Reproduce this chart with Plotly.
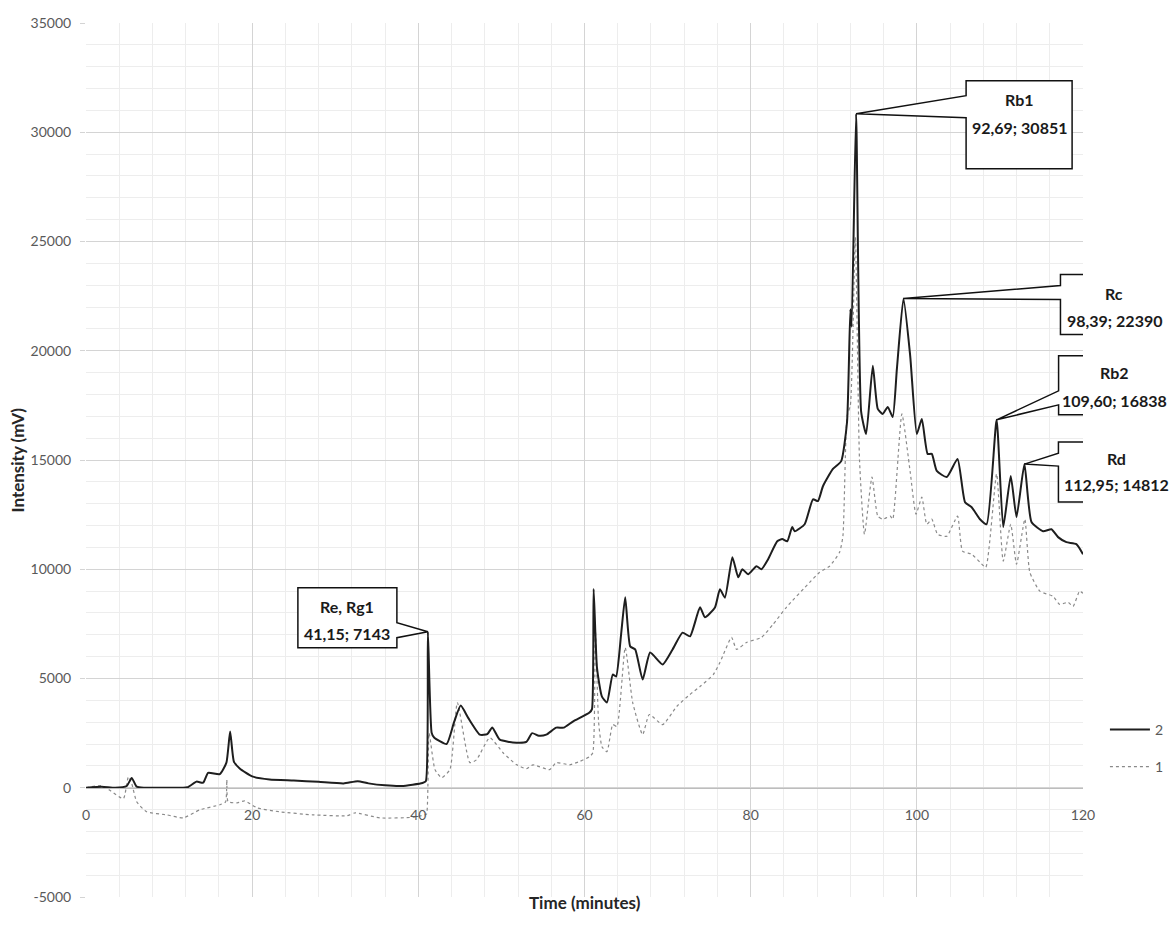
import plotly.graph_objects as go

# Chromatogram series: retention time (min) and detector intensity (mV)
time_2 = [0, 1.9, 3.5, 4.9, 5.5, 6.1, 7, 9, 12.2, 13.3, 14.1, 14.7, 16.1, 16.9, 17.35, 17.8,
          18.5, 20, 22.1, 25, 28, 31, 32.7, 34, 36, 38, 40.5, 40.9, 41.15, 41.6, 41.9, 43.4,
          44.3, 45.1, 46, 47.4, 48.3, 48.9, 49.8, 51.8, 53, 53.7, 54.5, 55.4, 56.6, 57.5,
          58.6, 60.6, 60.9, 61.1, 61.5, 62.1, 62.7, 63.4, 63.8, 64.4, 64.9, 65.5, 66.1, 67.0,
          67.9, 69.4, 70.6, 71.8, 72.7, 73.9, 74.5, 75.7, 76.3, 76.9, 77.8, 78.5, 79.0, 79.7,
          80.7, 81.3, 82.1, 83.2, 83.8, 84.4, 85.0, 85.3, 86.5, 87.5, 88.1, 88.7, 89.9, 90.9,
          91.6, 92.0, 92.15, 92.69, 93.3, 93.9, 94.7, 95.3, 95.9, 96.5, 97.1, 97.6, 98.39,
          99.2, 100.0, 100.6, 101.3, 101.8, 102.4, 103.6, 104.9, 105.8, 106.6, 107.6, 108.4,
          109.6, 110.4, 111.3, 112.0, 112.95, 113.8, 115.2, 116.2, 117.0, 118.0, 119.2, 120]
intensity_2 = [0, 50, 0, 80, 450, 50, 0, 0, 20, 280, 230, 680, 620, 1150, 2570, 1200,
               880, 520, 380, 330, 270, 200, 300, 200, 110, 80, 220, 300, 7143, 2520, 2300, 2000,
               3000, 3760, 3200, 2430, 2450, 2760, 2200, 2060, 2100, 2500, 2380, 2430, 2750, 2750,
               3030, 3440, 3600, 9100, 5500, 4170, 3900, 5180, 5090, 7000, 8720, 6470, 6330, 4950,
               6190, 5640, 6330, 7100, 6930, 8260, 7800, 8250, 9080, 8700, 10550, 9630, 10000, 9770,
               10140, 10000, 10460, 11280, 11380, 11280, 11930, 11740, 12060, 13200, 13120, 13800, 14590, 14950,
               16740, 21900, 21100, 30851, 17200, 16190, 19310, 17340, 17110, 17430, 16970, 19170, 22390,
               19770, 16190, 16880, 15280, 15280, 14500, 14220, 15050, 13070, 12840, 12290, 12060,
               16838, 11930, 14270, 12390, 14812, 12160, 11740, 11830, 11470, 11240, 11150, 10690]

time_1 = [0, 1.9, 3, 4.5, 5.1, 5.5, 6.1, 7.3, 9.7, 11.7, 13.7, 16.1, 16.8, 16.95, 17.1, 18.2,
          19.1, 20.6, 23.3, 27.3, 31.4, 32.4, 35.4, 39.4, 40.8, 41.0, 41.3, 42.0, 42.8, 43.8,
          44.7, 46.2, 47.0, 48.6, 50.2, 51.8, 53.0, 53.8, 55.8, 56.6, 58.2, 59.4, 60.6, 61.0,
          61.3, 61.7, 62.1, 62.7, 63.4, 63.9, 64.9, 65.8, 67.0, 67.8, 69.4, 71.1, 72.7, 73.9,
          75.5, 76.3, 77.7, 78.3, 79.5, 81.3, 82.7, 84.3, 87.1, 88.3, 89.5, 90.7, 91.1, 91.6,
          92.0, 92.6, 93.1, 93.7, 94.6, 95.3, 95.9, 96.8, 97.1, 98.2, 99.2, 99.9, 100.6, 101.2,
          101.8, 102.5, 103.6, 104.9, 105.5, 106.6, 107.6, 108.3, 109.6, 110.4, 111.3, 112.0,
          113.0, 113.6, 114.8, 116.4, 117.2, 118.2, 118.8, 119.6, 120]
intensity_1 = [0, 100, -150, -500, 500, 200, -640, -1100, -1240, -1380, -1010, -780, -650, 370, -640, -690,
               -600, -920, -1100, -1240, -1280, -1150, -1380, -1350, -1240, -1200, 2500, 830, 460, 830,
               3900, 1150, 1280, 2290, 1600, 1060, 870, 1050, 830, 1150, 1050, 1200, 1420, 1600,
               7300, 3000, 1880, 1650, 2890, 2800, 6420, 3900, 2430, 3350, 2890, 3720, 4270, 4630,
               5180, 5730, 6880, 6330, 6650, 6880, 7480, 8260, 9400, 9860, 10140, 10780, 11510, 17000,
               17500, 25200, 15000, 11600, 14220, 12430, 12290, 12430, 12290, 17110, 14450, 12520, 13300, 12060,
               12290, 11600, 11510, 12430, 10830, 10690, 10320, 10090, 14360, 10370, 12060, 10230,
               12290, 9860, 9000, 8760, 8390, 8490, 8300, 9000, 8900]

# Labelled peaks of series 2
peak_names = ["Re, Rg1", "Rb1", "Rc", "Rb2", "Rd"]
peak_times = [41.15, 92.69, 98.39, 109.60, 112.95]
peak_values = [7143, 30851, 22390, 16838, 14812]

x_ticks = [0, 20, 40, 60, 80, 100, 120]
y_ticks = [-5000, 0, 5000, 10000, 15000, 20000, 25000, 30000, 35000]

FONT = "Lato"
TICK_GREY = "#595959"

fig = go.Figure()
fig.add_trace(go.Scatter(
    x=time_1, y=intensity_1, name="1", mode="lines", legendgroup="s1", legendrank=2,
    line=dict(color="#8a8a8a", width=1.2, dash="dot", shape="spline", smoothing=0.5),
))
fig.add_trace(go.Scatter(
    x=time_2, y=intensity_2, name="2", mode="lines", legendgroup="s2", legendrank=1,
    line=dict(color="#1e1e1e", width=2, shape="spline", smoothing=0.5),
))

# Callout geometry in pixels relative to each peak (screen y grows downward):
# box left, right, top, bottom, wedge y1, wedge y2, text centre x, line-1 y, line-2 y
callout_layout = [
    (-130, -31, -44, 16, -9, 6, -81, -25, 2),
    (110, 216, -33, 55, -18, 4, 163, -14, 14),
    (157, 264, -24, 36, -13, 1, 211, -5, 22),
    (62, 176, -64, -5, -29, -15, 118, -47, -19),
    (34, 148, -22, 38, -11, 2, 92, -6, 20),
]

for name, t, v, geo in zip(peak_names, peak_times, peak_values, callout_layout):
    L, R, T, B, w1, w2, cx, ly1, ly2 = geo
    if L < 0:
        pts = [(L, T), (R, T), (R, w1), (0, 0), (R, w2), (R, B), (L, B)]
    else:
        pts = [(L, T), (R, T), (R, B), (L, B), (L, w2), (0, 0), (L, w1)]
    path = "M " + " L ".join(f"{px},{-py}" for px, py in pts) + " Z"
    fig.add_shape(type="path", path=path, xref="x", yref="y",
                  xsizemode="pixel", ysizemode="pixel", xanchor=t, yanchor=v,
                  fillcolor="white", line=dict(color="#111111", width=1.5), layer="above")
    label_value = f"{t:.2f}".replace(".", ",") + f"; {v}"
    for txt, ly in ((name, ly1), (label_value, ly2)):
        fig.add_annotation(x=t, y=v, xref="x", yref="y", text=f"<b>{txt}</b>",
                           showarrow=False, xshift=cx, yshift=-ly,
                           font=dict(family=FONT, size=16, color="#1a1a1a"))

# Axis titles
fig.add_annotation(x=0.5, y=0, xref="paper", yref="paper", yshift=-18, text="<b>Time (minutes)</b>",
                   showarrow=False, font=dict(family=FONT, size=17, color="#262626"))
fig.add_annotation(x=0, y=0.5, xref="paper", yref="paper", xshift=-82, text="<b>Intensity (mV)</b>",
                   textangle=-90, showarrow=False, font=dict(family=FONT, size=17, color="#262626"))

fig.update_layout(
    width=1171, height=927,
    margin=dict(l=86, r=88, t=23, b=30, autoexpand=False),
    paper_bgcolor="white", plot_bgcolor="white",
    font=dict(family=FONT, color=TICK_GREY),
    showlegend=True,
    legend=dict(x=1.022, y=0.17, xanchor="left", yanchor="middle",
                traceorder="grouped", itemwidth=40, tracegroupgap=16,
                font=dict(family=FONT, size=14, color=TICK_GREY),
                bgcolor="rgba(0,0,0,0)"),
    xaxis=dict(
        range=[0, 120], tickvals=x_ticks, ticktext=[str(v) for v in x_ticks],
        anchor="free", position=0.125,
        showgrid=True, gridcolor="#d4d4d4", gridwidth=1,
        minor=dict(dtick=4, showgrid=True, gridcolor="#ededed", gridwidth=1),
        showline=True, linecolor="#bdbdbd", linewidth=1,
        zeroline=False, ticks="", ticklabelstandoff=14,
        tickfont=dict(family=FONT, size=14, color=TICK_GREY),
    ),
    yaxis=dict(
        range=[-5000, 35000], tickvals=y_ticks, ticktext=[str(v) for v in y_ticks],
        showgrid=True, gridcolor="#d4d4d4", gridwidth=1,
        minor=dict(dtick=1000, showgrid=True, gridcolor="#ededed", gridwidth=1),
        zeroline=False, showline=False,
        ticks="outside", ticklen=5, tickcolor="#d4d4d4",
        ticklabelstandoff=6,
        tickfont=dict(family=FONT, size=14, color=TICK_GREY),
    ),
)

fig.write_html("out.html")
